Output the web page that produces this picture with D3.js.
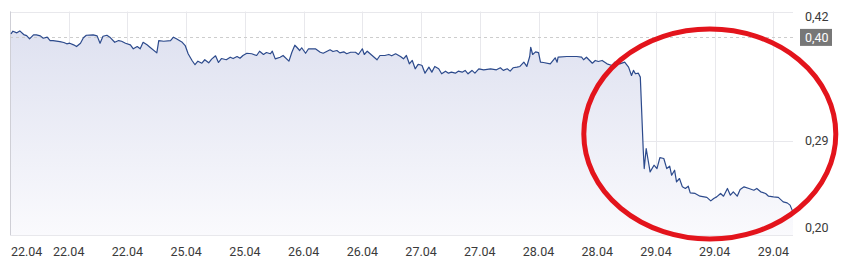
<!DOCTYPE html>
<html>
<head>
<meta charset="utf-8">
<script src="https://cdn.jsdelivr.net/npm/d3@7"></script>
<style>
	body { margin: 0; background: #fff; }
	text { font-family: Roboto, "Liberation Sans", Arial, sans-serif; }
	.gridLines { stroke: #e8e8ec; stroke-width: 1; }
	.priceLine { fill: none; stroke: #2c4a8c; stroke-width: 1.2; stroke-linejoin: round; }
	.axisLabel { fill: #3a3a3a; font-size: 12.5px; }
</style>
</head>
<body>
<script>

//Trading time in minutes from the first tick (one gridline every 60 minutes)
let times = [1, 3, 7, 10, 14, 17, 20, 24, 27, 31, 34, 38, 41, 44, 51, 55, 58, 61, 65, 68,
	72, 75, 78, 85, 89, 92, 95, 99, 102, 107, 111, 114, 118, 123, 126, 130, 133, 136, 140, 143,
	150, 152, 157, 164, 167, 170, 176, 179, 182, 186, 189, 192, 196, 199, 203, 206, 210, 213, 216, 221,
	225, 228, 232, 235, 238, 242, 247, 252, 255, 259, 262, 266, 268, 271, 276, 279, 285, 288, 291, 293,
	296, 298, 302, 305, 312, 317, 320, 327, 330, 334, 337, 341, 344, 348, 353, 356, 360, 362, 365, 370,
	375, 378, 383, 387, 390, 394, 399, 402, 405, 408, 411, 414, 417, 419, 421, 424, 428, 431, 434, 438,
	441, 445, 448, 451, 455, 458, 462, 465, 468, 472, 475, 479, 484, 491, 497, 501, 504, 508, 511, 514,
	518, 521, 525, 528, 531, 532, 534, 537, 540, 542, 545, 552, 557, 559, 560, 569, 579, 584, 586, 589,
	595, 598, 601, 605, 610, 615, 618, 623, 628, 632, 635, 637, 639, 642, 644, 647, 648, 650, 652, 654,
	658, 661, 664, 668, 671, 674, 676, 679, 681, 684, 687, 690, 693, 695, 700, 705, 712, 716, 719, 722,
	726, 729, 733, 736, 739, 743, 746, 750, 755, 760, 763, 767, 772, 775, 780, 785, 790, 794, 797, 800];

//Share price
let prices = [0.3980, 0.4006, 0.3990, 0.4009, 0.3973, 0.3963, 0.3931, 0.3970, 0.3970, 0.3960,
	0.3937, 0.3947, 0.3914, 0.3914, 0.3904, 0.3895, 0.3882, 0.3888, 0.3872, 0.3855,
	0.3888, 0.3941, 0.3966, 0.3970, 0.3960, 0.3888, 0.3956, 0.3966, 0.3947, 0.3897,
	0.3914, 0.3907, 0.3888, 0.3872, 0.3833, 0.3855, 0.3833, 0.3897, 0.3872, 0.3848,
	0.3793, 0.3914, 0.3907, 0.3914, 0.3947, 0.3931, 0.3897, 0.3865, 0.3784, 0.3718,
	0.3676, 0.3711, 0.3691, 0.3725, 0.3695, 0.3731, 0.3764, 0.3698, 0.3737, 0.3725,
	0.3750, 0.3737, 0.3757, 0.3740, 0.3767, 0.3789, 0.3784, 0.3767, 0.3809, 0.3777,
	0.3796, 0.3784, 0.3809, 0.3734, 0.3750, 0.3767, 0.3711, 0.3799, 0.3868, 0.3848,
	0.3816, 0.3843, 0.3789, 0.3833, 0.3833, 0.3799, 0.3789, 0.3823, 0.3806, 0.3816,
	0.3793, 0.3803, 0.3784, 0.3799, 0.3799, 0.3777, 0.3833, 0.3777, 0.3809, 0.3767,
	0.3725, 0.3767, 0.3767, 0.3777, 0.3764, 0.3784, 0.3757, 0.3734, 0.3767, 0.3685,
	0.3718, 0.3636, 0.3679, 0.3676, 0.3669, 0.3593, 0.3652, 0.3603, 0.3659, 0.3636,
	0.3587, 0.3613, 0.3593, 0.3603, 0.3593, 0.3613, 0.3603, 0.3620, 0.3587, 0.3620,
	0.3593, 0.3636, 0.3626, 0.3636, 0.3626, 0.3646, 0.3620, 0.3636, 0.3613, 0.3646,
	0.3652, 0.3659, 0.3701, 0.3659, 0.3757, 0.3848, 0.3777, 0.3803, 0.3796, 0.3701,
	0.3698, 0.3685, 0.3744, 0.3701, 0.3750, 0.3757, 0.3757, 0.3750, 0.3725, 0.3750,
	0.3691, 0.3718, 0.3708, 0.3718, 0.3685, 0.3669, 0.3701, 0.3685, 0.3701, 0.3652,
	0.3570, 0.3620, 0.3587, 0.3593, 0.3554, 0.2834, 0.2654, 0.2851, 0.2736, 0.2621,
	0.2687, 0.2654, 0.2762, 0.2753, 0.2654, 0.2677, 0.2588, 0.2638, 0.2523, 0.2556,
	0.2474, 0.2458, 0.2480, 0.2415, 0.2409, 0.2382, 0.2370, 0.2336, 0.2360, 0.2375,
	0.2409, 0.2382, 0.2458, 0.2392, 0.2425, 0.2382, 0.2448, 0.2474, 0.2458, 0.2441,
	0.2458, 0.2425, 0.2409, 0.2382, 0.2375, 0.2370, 0.2326, 0.2316, 0.2294, 0.2225];

//X axis tick positions (minutes) and their labels
let xTicks = [0, 60, 120, 180, 240, 300, 360, 420, 480, 540, 600, 660, 720, 780];
let xLabels = ["22.04", "22.04", "22.04", "25.04", "25.04", "26.04", "26.04",
	"27.04", "27.04", "28.04", "28.04", "29.04", "29.04", "29.04"];

//Y axis ticks and previous close
let yTicks = [0.42, 0.2925, 0.20];
let prevClose = 0.395;
let prevCloseLabel = "0,40";

//Begin script when window loads
window.onload = drawChart();

function drawChart(){

	let width = 842;
	let height = 266;
	let left = 10, right = 793, top = 11.5, bottom = 235;

	let svg = d3.select("body")
		.append("svg")
		.attr("width", width)
		.attr("height", height);

	let x = d3.scaleLinear()
		.domain([0, 800])
		.range([left, right]);

	let y = d3.scaleLinear()
		.domain([0.20, 0.42])
		.range([bottom, top]);

	let data = times.map(function(t, i){ return {t: t, p: prices[i]}; });

	//Gradient for the area under the line
	let grad = svg.append("defs")
		.append("linearGradient")
		.attr("id", "areaFill")
		.attr("gradientUnits", "userSpaceOnUse")
		.attr("x1", 0).attr("x2", 0)
		.attr("y1", top).attr("y2", bottom);
	grad.append("stop").attr("offset", "0%").attr("stop-color", "#dcdfef");
	grad.append("stop").attr("offset", "100%").attr("stop-color", "#fafafd");

	//Vertical gridlines
	svg.selectAll(".vGrid")
		.data(xTicks)
		.enter()
		.append("line")
		.attr("class", "gridLines")
		.attr("x1", function(d){ return Math.round(x(d)) + 0.5; })
		.attr("x2", function(d){ return Math.round(x(d)) + 0.5; })
		.attr("y1", top)
		.attr("y2", bottom);

	//Horizontal gridlines
	svg.selectAll(".hGrid")
		.data(yTicks)
		.enter()
		.append("line")
		.attr("class", "gridLines")
		.attr("x1", left)
		.attr("x2", right)
		.attr("y1", function(d){ return Math.round(y(d)) + 0.5; })
		.attr("y2", function(d){ return Math.round(y(d)) + 0.5; });

	//Area under the price
	let area = d3.area()
		.x(function(d){ return x(d.t); })
		.y0(bottom)
		.y1(function(d){ return y(d.p); });

	svg.append("path")
		.datum(data)
		.attr("fill", "url(#areaFill)")
		.attr("d", area);

	//Left border
	svg.append("line")
		.attr("x1", left + 0.5).attr("x2", left + 0.5)
		.attr("y1", top).attr("y2", bottom)
		.attr("stroke", "#cfcfd6");

	//Previous close dashed line
	svg.append("line")
		.attr("x1", left)
		.attr("x2", right)
		.attr("y1", Math.round(y(prevClose)) + 0.5)
		.attr("y2", Math.round(y(prevClose)) + 0.5)
		.attr("stroke", "#cdcdcd")
		.attr("stroke-dasharray", "3,3");

	//Price line
	let line = d3.line()
		.x(function(d){ return x(d.t); })
		.y(function(d){ return y(d.p); });

	svg.append("path")
		.datum(data)
		.attr("class", "priceLine")
		.attr("d", line);

	//X axis labels
	svg.selectAll(".xLabel")
		.data(xTicks)
		.enter()
		.append("text")
		.attr("class", "axisLabel")
		.attr("x", function(d){ return x(d); })
		.attr("y", 256)
		.attr("text-anchor", "middle")
		.text(function(d, i){ return xLabels[i]; })
		.each(function(){
			//keep the first label inside the chart
			let w = this.getComputedTextLength();
			let cx = +d3.select(this).attr("x");
			if (cx - w / 2 < left + 1) d3.select(this).attr("x", left + 1 + w / 2);
		});

	//Y axis labels, clamped inside the plot height
	svg.selectAll(".yLabel")
		.data(yTicks)
		.enter()
		.append("text")
		.attr("class", "axisLabel")
		.attr("x", 805)
		.attr("y", function(d){ return Math.min(Math.max(y(d), 17), 228); })
		.attr("dy", "0.35em")
		.text(function(d){ return d3.format(".2f")(d).replace(".", ","); });

	//Previous close marker
	let pcY = y(prevClose);
	svg.append("rect")
		.attr("x", 800)
		.attr("y", pcY - 8)
		.attr("width", 32)
		.attr("height", 17)
		.attr("fill", "#777");

	svg.append("text")
		.attr("class", "axisLabel")
		.attr("x", 805)
		.attr("y", pcY + 0.5)
		.attr("dy", "0.35em")
		.style("fill", "#fff")
		.text(prevCloseLabel);

	//Red annotation circle around the drop
	svg.append("ellipse")
		.attr("cx", x(715))
		.attr("cy", 134)
		.attr("rx", 126)
		.attr("ry", 105)
		.attr("fill", "none")
		.attr("stroke", "#e3141c")
		.attr("stroke-width", 5);
};

</script>
</body>
</html>
